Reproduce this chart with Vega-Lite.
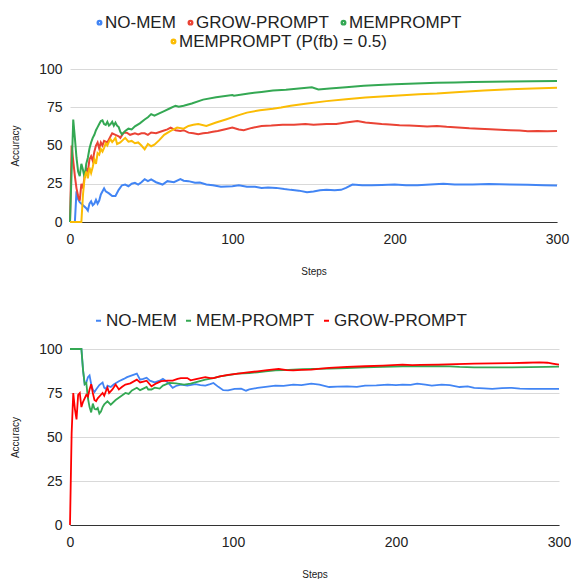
{
  "$schema": "https://vega.github.io/schema/vega-lite/v6.json",
  "padding": {"left": 10, "top": 14, "right": 2, "bottom": 2},
  "config": {
    "font": "Liberation Sans",
    "view": {"stroke": null},
    "axis": {"labelColor": "#222", "titleColor": "#222", "titleFontWeight": "normal", "titleFontSize": 10, "labelFontSize": 14, "ticks": false, "labelFlush": false},
    "axisY": {"grid": true, "gridColor": "#d9d9d9", "gridWidth": 1.2, "domain": false, "labelPadding": 8, "titlePadding": 18},
    "axisX": {"grid": false, "domainColor": "#333", "labelPadding": 10, "titlePadding": 20},
    "legend": {"labelFontSize": 17, "labelColor": "#222", "labelFont": "Liberation Sans", "labelLimit": 0, "direction": "horizontal", "orient": "none", "title": null, "labelOffset": -3, "columnPadding": 6}
  },
  "datasets": {
    "top": [
      {"s": "NO-MEM", "x": 0, "y": 0}, {"s": "NO-MEM", "x": 3, "y": 0}, {"s": "NO-MEM", "x": 4, "y": 20}, {"s": "NO-MEM", "x": 5, "y": 15}, {"s": "NO-MEM", "x": 6, "y": 13}, {"s": "NO-MEM", "x": 8, "y": 11}, {"s": "NO-MEM", "x": 10, "y": 9}, {"s": "NO-MEM", "x": 11, "y": 7.5}, {"s": "NO-MEM", "x": 12, "y": 12}, {"s": "NO-MEM", "x": 13, "y": 13.5}, {"s": "NO-MEM", "x": 14, "y": 11}, {"s": "NO-MEM", "x": 15, "y": 12}, {"s": "NO-MEM", "x": 16, "y": 14.5}, {"s": "NO-MEM", "x": 17, "y": 12}, {"s": "NO-MEM", "x": 18, "y": 14}, {"s": "NO-MEM", "x": 19, "y": 18}, {"s": "NO-MEM", "x": 21, "y": 22}, {"s": "NO-MEM", "x": 22, "y": 20}, {"s": "NO-MEM", "x": 24, "y": 18.7}, {"s": "NO-MEM", "x": 26, "y": 17}, {"s": "NO-MEM", "x": 28, "y": 17}, {"s": "NO-MEM", "x": 30, "y": 21}, {"s": "NO-MEM", "x": 32, "y": 24}, {"s": "NO-MEM", "x": 34, "y": 24.5}, {"s": "NO-MEM", "x": 36, "y": 23.4}, {"s": "NO-MEM", "x": 38, "y": 25}, {"s": "NO-MEM", "x": 40, "y": 25.6}, {"s": "NO-MEM", "x": 42, "y": 24.5}, {"s": "NO-MEM", "x": 44, "y": 26}, {"s": "NO-MEM", "x": 46, "y": 28}, {"s": "NO-MEM", "x": 48, "y": 26.7}, {"s": "NO-MEM", "x": 50, "y": 27.8}, {"s": "NO-MEM", "x": 53, "y": 26}, {"s": "NO-MEM", "x": 57, "y": 24.5}, {"s": "NO-MEM", "x": 60, "y": 26.7}, {"s": "NO-MEM", "x": 64, "y": 26}, {"s": "NO-MEM", "x": 68, "y": 28}, {"s": "NO-MEM", "x": 70, "y": 27}, {"s": "NO-MEM", "x": 73, "y": 26.7}, {"s": "NO-MEM", "x": 77, "y": 25.6}, {"s": "NO-MEM", "x": 80, "y": 25.8}, {"s": "NO-MEM", "x": 84, "y": 24.5}, {"s": "NO-MEM", "x": 88, "y": 24}, {"s": "NO-MEM", "x": 93, "y": 23}, {"s": "NO-MEM", "x": 100, "y": 23.4}, {"s": "NO-MEM", "x": 104, "y": 24}, {"s": "NO-MEM", "x": 109, "y": 23}, {"s": "NO-MEM", "x": 114, "y": 23}, {"s": "NO-MEM", "x": 118, "y": 22.3}, {"s": "NO-MEM", "x": 122, "y": 22.5}, {"s": "NO-MEM", "x": 127, "y": 22.3}, {"s": "NO-MEM", "x": 132, "y": 21.5}, {"s": "NO-MEM", "x": 136, "y": 21}, {"s": "NO-MEM", "x": 141, "y": 20.5}, {"s": "NO-MEM", "x": 146, "y": 19.5}, {"s": "NO-MEM", "x": 150, "y": 20}, {"s": "NO-MEM", "x": 154, "y": 20.8}, {"s": "NO-MEM", "x": 158, "y": 21}, {"s": "NO-MEM", "x": 163, "y": 20.8}, {"s": "NO-MEM", "x": 167, "y": 21}, {"s": "NO-MEM", "x": 170, "y": 22.3}, {"s": "NO-MEM", "x": 174, "y": 24.5}, {"s": "NO-MEM", "x": 180, "y": 24}, {"s": "NO-MEM", "x": 186, "y": 24}, {"s": "NO-MEM", "x": 192, "y": 24.2}, {"s": "NO-MEM", "x": 200, "y": 24.5}, {"s": "NO-MEM", "x": 207, "y": 24}, {"s": "NO-MEM", "x": 214, "y": 24}, {"s": "NO-MEM", "x": 222, "y": 24.5}, {"s": "NO-MEM", "x": 230, "y": 25}, {"s": "NO-MEM", "x": 237, "y": 24.5}, {"s": "NO-MEM", "x": 248, "y": 24.5}, {"s": "NO-MEM", "x": 258, "y": 24.8}, {"s": "NO-MEM", "x": 271, "y": 24.5}, {"s": "NO-MEM", "x": 282, "y": 24.3}, {"s": "NO-MEM", "x": 292, "y": 24}, {"s": "NO-MEM", "x": 300, "y": 23.8},
      {"s": "GROW-PROMPT", "x": 0, "y": 0}, {"s": "GROW-PROMPT", "x": 1, "y": 50}, {"s": "GROW-PROMPT", "x": 2, "y": 40}, {"s": "GROW-PROMPT", "x": 3, "y": 30}, {"s": "GROW-PROMPT", "x": 4, "y": 22}, {"s": "GROW-PROMPT", "x": 5, "y": 17}, {"s": "GROW-PROMPT", "x": 6, "y": 14}, {"s": "GROW-PROMPT", "x": 7, "y": 25}, {"s": "GROW-PROMPT", "x": 8, "y": 22}, {"s": "GROW-PROMPT", "x": 9, "y": 30}, {"s": "GROW-PROMPT", "x": 10, "y": 35}, {"s": "GROW-PROMPT", "x": 11, "y": 33}, {"s": "GROW-PROMPT", "x": 12, "y": 41}, {"s": "GROW-PROMPT", "x": 13, "y": 43}, {"s": "GROW-PROMPT", "x": 14, "y": 40}, {"s": "GROW-PROMPT", "x": 15, "y": 46}, {"s": "GROW-PROMPT", "x": 16, "y": 50}, {"s": "GROW-PROMPT", "x": 17, "y": 52}, {"s": "GROW-PROMPT", "x": 18, "y": 48}, {"s": "GROW-PROMPT", "x": 19, "y": 52}, {"s": "GROW-PROMPT", "x": 20, "y": 50}, {"s": "GROW-PROMPT", "x": 21, "y": 53}, {"s": "GROW-PROMPT", "x": 23, "y": 52}, {"s": "GROW-PROMPT", "x": 25, "y": 56}, {"s": "GROW-PROMPT", "x": 26, "y": 58}, {"s": "GROW-PROMPT", "x": 28, "y": 57}, {"s": "GROW-PROMPT", "x": 30, "y": 56}, {"s": "GROW-PROMPT", "x": 31, "y": 55}, {"s": "GROW-PROMPT", "x": 33, "y": 58.4}, {"s": "GROW-PROMPT", "x": 35, "y": 58.4}, {"s": "GROW-PROMPT", "x": 37, "y": 57}, {"s": "GROW-PROMPT", "x": 40, "y": 58}, {"s": "GROW-PROMPT", "x": 42, "y": 57.3}, {"s": "GROW-PROMPT", "x": 44, "y": 58}, {"s": "GROW-PROMPT", "x": 46, "y": 58}, {"s": "GROW-PROMPT", "x": 48, "y": 57}, {"s": "GROW-PROMPT", "x": 50, "y": 58.5}, {"s": "GROW-PROMPT", "x": 53, "y": 58}, {"s": "GROW-PROMPT", "x": 57, "y": 59.5}, {"s": "GROW-PROMPT", "x": 60, "y": 60.5}, {"s": "GROW-PROMPT", "x": 62, "y": 61.7}, {"s": "GROW-PROMPT", "x": 65, "y": 60}, {"s": "GROW-PROMPT", "x": 68, "y": 59.5}, {"s": "GROW-PROMPT", "x": 70, "y": 60}, {"s": "GROW-PROMPT", "x": 73, "y": 58.4}, {"s": "GROW-PROMPT", "x": 76, "y": 58}, {"s": "GROW-PROMPT", "x": 79, "y": 57.3}, {"s": "GROW-PROMPT", "x": 82, "y": 58}, {"s": "GROW-PROMPT", "x": 85, "y": 58.4}, {"s": "GROW-PROMPT", "x": 88, "y": 59}, {"s": "GROW-PROMPT", "x": 91, "y": 59.5}, {"s": "GROW-PROMPT", "x": 95, "y": 60.5}, {"s": "GROW-PROMPT", "x": 100, "y": 61.7}, {"s": "GROW-PROMPT", "x": 104, "y": 60.5}, {"s": "GROW-PROMPT", "x": 107, "y": 60}, {"s": "GROW-PROMPT", "x": 112, "y": 61.5}, {"s": "GROW-PROMPT", "x": 118, "y": 62.8}, {"s": "GROW-PROMPT", "x": 124, "y": 63}, {"s": "GROW-PROMPT", "x": 131, "y": 63.5}, {"s": "GROW-PROMPT", "x": 138, "y": 63.5}, {"s": "GROW-PROMPT", "x": 145, "y": 64}, {"s": "GROW-PROMPT", "x": 150, "y": 63.5}, {"s": "GROW-PROMPT", "x": 158, "y": 64}, {"s": "GROW-PROMPT", "x": 164, "y": 64}, {"s": "GROW-PROMPT", "x": 170, "y": 65}, {"s": "GROW-PROMPT", "x": 177, "y": 66}, {"s": "GROW-PROMPT", "x": 182, "y": 65}, {"s": "GROW-PROMPT", "x": 187, "y": 64.5}, {"s": "GROW-PROMPT", "x": 192, "y": 64}, {"s": "GROW-PROMPT", "x": 197, "y": 63.8}, {"s": "GROW-PROMPT", "x": 203, "y": 63.2}, {"s": "GROW-PROMPT", "x": 209, "y": 63}, {"s": "GROW-PROMPT", "x": 215, "y": 62.8}, {"s": "GROW-PROMPT", "x": 220, "y": 62.5}, {"s": "GROW-PROMPT", "x": 226, "y": 62.8}, {"s": "GROW-PROMPT", "x": 232, "y": 62.2}, {"s": "GROW-PROMPT", "x": 239, "y": 61.7}, {"s": "GROW-PROMPT", "x": 246, "y": 61.2}, {"s": "GROW-PROMPT", "x": 252, "y": 61}, {"s": "GROW-PROMPT", "x": 259, "y": 60.6}, {"s": "GROW-PROMPT", "x": 265, "y": 60.3}, {"s": "GROW-PROMPT", "x": 271, "y": 60}, {"s": "GROW-PROMPT", "x": 277, "y": 59.8}, {"s": "GROW-PROMPT", "x": 282, "y": 59.3}, {"s": "GROW-PROMPT", "x": 288, "y": 59.5}, {"s": "GROW-PROMPT", "x": 294, "y": 59.3}, {"s": "GROW-PROMPT", "x": 300, "y": 59.5},
      {"s": "MEMPROMPT", "x": 0, "y": 0}, {"s": "MEMPROMPT", "x": 2, "y": 67}, {"s": "MEMPROMPT", "x": 3, "y": 55}, {"s": "MEMPROMPT", "x": 4, "y": 42}, {"s": "MEMPROMPT", "x": 5, "y": 33}, {"s": "MEMPROMPT", "x": 6, "y": 30}, {"s": "MEMPROMPT", "x": 7, "y": 38}, {"s": "MEMPROMPT", "x": 8, "y": 34}, {"s": "MEMPROMPT", "x": 9, "y": 29}, {"s": "MEMPROMPT", "x": 10, "y": 38}, {"s": "MEMPROMPT", "x": 11, "y": 42}, {"s": "MEMPROMPT", "x": 12, "y": 48}, {"s": "MEMPROMPT", "x": 13, "y": 52}, {"s": "MEMPROMPT", "x": 14, "y": 55}, {"s": "MEMPROMPT", "x": 15, "y": 57}, {"s": "MEMPROMPT", "x": 16, "y": 60}, {"s": "MEMPROMPT", "x": 17, "y": 62}, {"s": "MEMPROMPT", "x": 18, "y": 64}, {"s": "MEMPROMPT", "x": 19, "y": 66}, {"s": "MEMPROMPT", "x": 20, "y": 66.5}, {"s": "MEMPROMPT", "x": 21, "y": 64}, {"s": "MEMPROMPT", "x": 22, "y": 63.5}, {"s": "MEMPROMPT", "x": 23, "y": 65.5}, {"s": "MEMPROMPT", "x": 24, "y": 63}, {"s": "MEMPROMPT", "x": 25, "y": 64}, {"s": "MEMPROMPT", "x": 26, "y": 65.5}, {"s": "MEMPROMPT", "x": 27, "y": 63}, {"s": "MEMPROMPT", "x": 28, "y": 65}, {"s": "MEMPROMPT", "x": 29, "y": 63}, {"s": "MEMPROMPT", "x": 30, "y": 62}, {"s": "MEMPROMPT", "x": 31, "y": 59}, {"s": "MEMPROMPT", "x": 32, "y": 57.3}, {"s": "MEMPROMPT", "x": 34, "y": 59.5}, {"s": "MEMPROMPT", "x": 36, "y": 61}, {"s": "MEMPROMPT", "x": 38, "y": 60.5}, {"s": "MEMPROMPT", "x": 40, "y": 62.5}, {"s": "MEMPROMPT", "x": 43, "y": 64.5}, {"s": "MEMPROMPT", "x": 46, "y": 67}, {"s": "MEMPROMPT", "x": 48, "y": 68.5}, {"s": "MEMPROMPT", "x": 50, "y": 70.5}, {"s": "MEMPROMPT", "x": 52, "y": 69.5}, {"s": "MEMPROMPT", "x": 55, "y": 71}, {"s": "MEMPROMPT", "x": 58, "y": 72.5}, {"s": "MEMPROMPT", "x": 62, "y": 74.5}, {"s": "MEMPROMPT", "x": 65, "y": 76}, {"s": "MEMPROMPT", "x": 67, "y": 75.3}, {"s": "MEMPROMPT", "x": 70, "y": 76}, {"s": "MEMPROMPT", "x": 75, "y": 77.5}, {"s": "MEMPROMPT", "x": 82, "y": 80}, {"s": "MEMPROMPT", "x": 90, "y": 81.5}, {"s": "MEMPROMPT", "x": 100, "y": 83}, {"s": "MEMPROMPT", "x": 101, "y": 82.5}, {"s": "MEMPROMPT", "x": 110, "y": 84}, {"s": "MEMPROMPT", "x": 118, "y": 85}, {"s": "MEMPROMPT", "x": 125, "y": 86}, {"s": "MEMPROMPT", "x": 133, "y": 86.5}, {"s": "MEMPROMPT", "x": 141, "y": 87.2}, {"s": "MEMPROMPT", "x": 149, "y": 88}, {"s": "MEMPROMPT", "x": 153, "y": 86.6}, {"s": "MEMPROMPT", "x": 160, "y": 87.3}, {"s": "MEMPROMPT", "x": 170, "y": 88}, {"s": "MEMPROMPT", "x": 181, "y": 89}, {"s": "MEMPROMPT", "x": 190, "y": 89.5}, {"s": "MEMPROMPT", "x": 200, "y": 90}, {"s": "MEMPROMPT", "x": 213, "y": 90.5}, {"s": "MEMPROMPT", "x": 226, "y": 91}, {"s": "MEMPROMPT", "x": 237, "y": 91.2}, {"s": "MEMPROMPT", "x": 248, "y": 91.5}, {"s": "MEMPROMPT", "x": 260, "y": 91.6}, {"s": "MEMPROMPT", "x": 272, "y": 91.8}, {"s": "MEMPROMPT", "x": 285, "y": 92}, {"s": "MEMPROMPT", "x": 300, "y": 92.2},
      {"s": "MEMPROMPT (P(fb) = 0.5)", "x": 0, "y": 0}, {"s": "MEMPROMPT (P(fb) = 0.5)", "x": 7, "y": 0}, {"s": "MEMPROMPT (P(fb) = 0.5)", "x": 8, "y": 18}, {"s": "MEMPROMPT (P(fb) = 0.5)", "x": 9, "y": 29}, {"s": "MEMPROMPT (P(fb) = 0.5)", "x": 10, "y": 33}, {"s": "MEMPROMPT (P(fb) = 0.5)", "x": 11, "y": 28.5}, {"s": "MEMPROMPT (P(fb) = 0.5)", "x": 12, "y": 35.6}, {"s": "MEMPROMPT (P(fb) = 0.5)", "x": 13, "y": 32}, {"s": "MEMPROMPT (P(fb) = 0.5)", "x": 14, "y": 36}, {"s": "MEMPROMPT (P(fb) = 0.5)", "x": 15, "y": 41}, {"s": "MEMPROMPT (P(fb) = 0.5)", "x": 16, "y": 38}, {"s": "MEMPROMPT (P(fb) = 0.5)", "x": 17, "y": 45}, {"s": "MEMPROMPT (P(fb) = 0.5)", "x": 18, "y": 44}, {"s": "MEMPROMPT (P(fb) = 0.5)", "x": 19, "y": 47.7}, {"s": "MEMPROMPT (P(fb) = 0.5)", "x": 20, "y": 46}, {"s": "MEMPROMPT (P(fb) = 0.5)", "x": 21, "y": 48.5}, {"s": "MEMPROMPT (P(fb) = 0.5)", "x": 22, "y": 51.4}, {"s": "MEMPROMPT (P(fb) = 0.5)", "x": 23, "y": 50}, {"s": "MEMPROMPT (P(fb) = 0.5)", "x": 24, "y": 52.5}, {"s": "MEMPROMPT (P(fb) = 0.5)", "x": 25, "y": 54}, {"s": "MEMPROMPT (P(fb) = 0.5)", "x": 26, "y": 52.3}, {"s": "MEMPROMPT (P(fb) = 0.5)", "x": 27, "y": 53.5}, {"s": "MEMPROMPT (P(fb) = 0.5)", "x": 28, "y": 55}, {"s": "MEMPROMPT (P(fb) = 0.5)", "x": 29, "y": 51}, {"s": "MEMPROMPT (P(fb) = 0.5)", "x": 31, "y": 52}, {"s": "MEMPROMPT (P(fb) = 0.5)", "x": 33, "y": 54}, {"s": "MEMPROMPT (P(fb) = 0.5)", "x": 34, "y": 55}, {"s": "MEMPROMPT (P(fb) = 0.5)", "x": 36, "y": 52.5}, {"s": "MEMPROMPT (P(fb) = 0.5)", "x": 38, "y": 53}, {"s": "MEMPROMPT (P(fb) = 0.5)", "x": 40, "y": 51.5}, {"s": "MEMPROMPT (P(fb) = 0.5)", "x": 42, "y": 52}, {"s": "MEMPROMPT (P(fb) = 0.5)", "x": 44, "y": 50}, {"s": "MEMPROMPT (P(fb) = 0.5)", "x": 46, "y": 47.5}, {"s": "MEMPROMPT (P(fb) = 0.5)", "x": 48, "y": 51}, {"s": "MEMPROMPT (P(fb) = 0.5)", "x": 50, "y": 49.5}, {"s": "MEMPROMPT (P(fb) = 0.5)", "x": 52, "y": 50.5}, {"s": "MEMPROMPT (P(fb) = 0.5)", "x": 55, "y": 53.5}, {"s": "MEMPROMPT (P(fb) = 0.5)", "x": 58, "y": 57}, {"s": "MEMPROMPT (P(fb) = 0.5)", "x": 62, "y": 59.5}, {"s": "MEMPROMPT (P(fb) = 0.5)", "x": 66, "y": 61.7}, {"s": "MEMPROMPT (P(fb) = 0.5)", "x": 70, "y": 61}, {"s": "MEMPROMPT (P(fb) = 0.5)", "x": 73, "y": 62.8}, {"s": "MEMPROMPT (P(fb) = 0.5)", "x": 76, "y": 63.5}, {"s": "MEMPROMPT (P(fb) = 0.5)", "x": 79, "y": 64}, {"s": "MEMPROMPT (P(fb) = 0.5)", "x": 84, "y": 62.8}, {"s": "MEMPROMPT (P(fb) = 0.5)", "x": 90, "y": 65}, {"s": "MEMPROMPT (P(fb) = 0.5)", "x": 96, "y": 67}, {"s": "MEMPROMPT (P(fb) = 0.5)", "x": 103, "y": 69.5}, {"s": "MEMPROMPT (P(fb) = 0.5)", "x": 109, "y": 71.5}, {"s": "MEMPROMPT (P(fb) = 0.5)", "x": 117, "y": 73}, {"s": "MEMPROMPT (P(fb) = 0.5)", "x": 125, "y": 74}, {"s": "MEMPROMPT (P(fb) = 0.5)", "x": 130, "y": 74.8}, {"s": "MEMPROMPT (P(fb) = 0.5)", "x": 136, "y": 76}, {"s": "MEMPROMPT (P(fb) = 0.5)", "x": 145, "y": 77.3}, {"s": "MEMPROMPT (P(fb) = 0.5)", "x": 158, "y": 79}, {"s": "MEMPROMPT (P(fb) = 0.5)", "x": 170, "y": 80.3}, {"s": "MEMPROMPT (P(fb) = 0.5)", "x": 182, "y": 81.3}, {"s": "MEMPROMPT (P(fb) = 0.5)", "x": 192, "y": 82}, {"s": "MEMPROMPT (P(fb) = 0.5)", "x": 205, "y": 82.8}, {"s": "MEMPROMPT (P(fb) = 0.5)", "x": 215, "y": 83.5}, {"s": "MEMPROMPT (P(fb) = 0.5)", "x": 226, "y": 84}, {"s": "MEMPROMPT (P(fb) = 0.5)", "x": 240, "y": 85}, {"s": "MEMPROMPT (P(fb) = 0.5)", "x": 255, "y": 86}, {"s": "MEMPROMPT (P(fb) = 0.5)", "x": 271, "y": 86.8}, {"s": "MEMPROMPT (P(fb) = 0.5)", "x": 285, "y": 87.2}, {"s": "MEMPROMPT (P(fb) = 0.5)", "x": 300, "y": 87.7}
    ],
    "bottom": [
      {"s": "NO-MEM", "x": 0, "y": 100}, {"s": "NO-MEM", "x": 7, "y": 100}, {"s": "NO-MEM", "x": 8, "y": 88}, {"s": "NO-MEM", "x": 9, "y": 80}, {"s": "NO-MEM", "x": 10, "y": 81}, {"s": "NO-MEM", "x": 11, "y": 84}, {"s": "NO-MEM", "x": 12, "y": 85}, {"s": "NO-MEM", "x": 13, "y": 80}, {"s": "NO-MEM", "x": 14, "y": 77}, {"s": "NO-MEM", "x": 15, "y": 75.5}, {"s": "NO-MEM", "x": 16, "y": 77}, {"s": "NO-MEM", "x": 18, "y": 79.5}, {"s": "NO-MEM", "x": 20, "y": 81}, {"s": "NO-MEM", "x": 21, "y": 78}, {"s": "NO-MEM", "x": 22, "y": 77.3}, {"s": "NO-MEM", "x": 23, "y": 79.2}, {"s": "NO-MEM", "x": 25, "y": 78.4}, {"s": "NO-MEM", "x": 27, "y": 80}, {"s": "NO-MEM", "x": 30, "y": 81.7}, {"s": "NO-MEM", "x": 33, "y": 83}, {"s": "NO-MEM", "x": 35, "y": 84}, {"s": "NO-MEM", "x": 38, "y": 85}, {"s": "NO-MEM", "x": 41, "y": 86}, {"s": "NO-MEM", "x": 43, "y": 82.6}, {"s": "NO-MEM", "x": 45, "y": 83}, {"s": "NO-MEM", "x": 47, "y": 83.7}, {"s": "NO-MEM", "x": 49, "y": 82}, {"s": "NO-MEM", "x": 52, "y": 81}, {"s": "NO-MEM", "x": 55, "y": 82}, {"s": "NO-MEM", "x": 57, "y": 83}, {"s": "NO-MEM", "x": 59, "y": 81.7}, {"s": "NO-MEM", "x": 61, "y": 80}, {"s": "NO-MEM", "x": 63, "y": 77.9}, {"s": "NO-MEM", "x": 65, "y": 79}, {"s": "NO-MEM", "x": 68, "y": 79.8}, {"s": "NO-MEM", "x": 72, "y": 79.2}, {"s": "NO-MEM", "x": 77, "y": 80}, {"s": "NO-MEM", "x": 80, "y": 79.5}, {"s": "NO-MEM", "x": 83, "y": 79.2}, {"s": "NO-MEM", "x": 86, "y": 80}, {"s": "NO-MEM", "x": 88, "y": 80.7}, {"s": "NO-MEM", "x": 91, "y": 78.5}, {"s": "NO-MEM", "x": 94, "y": 76.6}, {"s": "NO-MEM", "x": 97, "y": 76.5}, {"s": "NO-MEM", "x": 101, "y": 77.4}, {"s": "NO-MEM", "x": 105, "y": 77.5}, {"s": "NO-MEM", "x": 108, "y": 76.3}, {"s": "NO-MEM", "x": 110, "y": 77}, {"s": "NO-MEM", "x": 115, "y": 77.9}, {"s": "NO-MEM", "x": 120, "y": 78.5}, {"s": "NO-MEM", "x": 126, "y": 79.2}, {"s": "NO-MEM", "x": 131, "y": 79}, {"s": "NO-MEM", "x": 137, "y": 79.8}, {"s": "NO-MEM", "x": 142, "y": 79.5}, {"s": "NO-MEM", "x": 148, "y": 80.3}, {"s": "NO-MEM", "x": 153, "y": 79.8}, {"s": "NO-MEM", "x": 159, "y": 78.4}, {"s": "NO-MEM", "x": 164, "y": 78.6}, {"s": "NO-MEM", "x": 170, "y": 78.8}, {"s": "NO-MEM", "x": 176, "y": 78.5}, {"s": "NO-MEM", "x": 181, "y": 79.2}, {"s": "NO-MEM", "x": 188, "y": 79.3}, {"s": "NO-MEM", "x": 195, "y": 79.8}, {"s": "NO-MEM", "x": 200, "y": 79.5}, {"s": "NO-MEM", "x": 204, "y": 79.8}, {"s": "NO-MEM", "x": 209, "y": 79.6}, {"s": "NO-MEM", "x": 213, "y": 80.3}, {"s": "NO-MEM", "x": 218, "y": 79.8}, {"s": "NO-MEM", "x": 222, "y": 79.2}, {"s": "NO-MEM", "x": 228, "y": 79.8}, {"s": "NO-MEM", "x": 233, "y": 79.5}, {"s": "NO-MEM", "x": 239, "y": 78.4}, {"s": "NO-MEM", "x": 244, "y": 78.8}, {"s": "NO-MEM", "x": 248, "y": 77.9}, {"s": "NO-MEM", "x": 254, "y": 77.6}, {"s": "NO-MEM", "x": 259, "y": 77.3}, {"s": "NO-MEM", "x": 265, "y": 77.8}, {"s": "NO-MEM", "x": 271, "y": 77.9}, {"s": "NO-MEM", "x": 276, "y": 77.5}, {"s": "NO-MEM", "x": 282, "y": 77.3}, {"s": "NO-MEM", "x": 288, "y": 77.4}, {"s": "NO-MEM", "x": 293, "y": 77.3}, {"s": "NO-MEM", "x": 300, "y": 77.3},
      {"s": "MEM-PROMPT", "x": 0, "y": 100}, {"s": "MEM-PROMPT", "x": 7, "y": 100}, {"s": "MEM-PROMPT", "x": 8, "y": 88}, {"s": "MEM-PROMPT", "x": 9, "y": 80}, {"s": "MEM-PROMPT", "x": 10, "y": 80.7}, {"s": "MEM-PROMPT", "x": 11, "y": 72}, {"s": "MEM-PROMPT", "x": 12, "y": 67}, {"s": "MEM-PROMPT", "x": 13, "y": 64}, {"s": "MEM-PROMPT", "x": 14, "y": 69}, {"s": "MEM-PROMPT", "x": 15, "y": 66}, {"s": "MEM-PROMPT", "x": 16, "y": 65.6}, {"s": "MEM-PROMPT", "x": 17, "y": 66.5}, {"s": "MEM-PROMPT", "x": 18, "y": 63.3}, {"s": "MEM-PROMPT", "x": 19, "y": 64.5}, {"s": "MEM-PROMPT", "x": 20, "y": 67}, {"s": "MEM-PROMPT", "x": 21, "y": 68.5}, {"s": "MEM-PROMPT", "x": 23, "y": 70.3}, {"s": "MEM-PROMPT", "x": 25, "y": 68.4}, {"s": "MEM-PROMPT", "x": 28, "y": 71}, {"s": "MEM-PROMPT", "x": 31, "y": 73}, {"s": "MEM-PROMPT", "x": 34, "y": 75}, {"s": "MEM-PROMPT", "x": 36, "y": 74.5}, {"s": "MEM-PROMPT", "x": 38, "y": 76.5}, {"s": "MEM-PROMPT", "x": 41, "y": 78}, {"s": "MEM-PROMPT", "x": 43, "y": 76.6}, {"s": "MEM-PROMPT", "x": 45, "y": 77.5}, {"s": "MEM-PROMPT", "x": 47, "y": 78.4}, {"s": "MEM-PROMPT", "x": 48, "y": 77}, {"s": "MEM-PROMPT", "x": 50, "y": 77}, {"s": "MEM-PROMPT", "x": 52, "y": 78}, {"s": "MEM-PROMPT", "x": 55, "y": 77.5}, {"s": "MEM-PROMPT", "x": 57, "y": 79.2}, {"s": "MEM-PROMPT", "x": 61, "y": 80.7}, {"s": "MEM-PROMPT", "x": 65, "y": 80.5}, {"s": "MEM-PROMPT", "x": 70, "y": 79.8}, {"s": "MEM-PROMPT", "x": 74, "y": 80.3}, {"s": "MEM-PROMPT", "x": 78, "y": 81.3}, {"s": "MEM-PROMPT", "x": 83, "y": 82.6}, {"s": "MEM-PROMPT", "x": 88, "y": 83.5}, {"s": "MEM-PROMPT", "x": 92, "y": 84.5}, {"s": "MEM-PROMPT", "x": 98, "y": 85.3}, {"s": "MEM-PROMPT", "x": 103, "y": 86}, {"s": "MEM-PROMPT", "x": 110, "y": 86.3}, {"s": "MEM-PROMPT", "x": 115, "y": 86.8}, {"s": "MEM-PROMPT", "x": 120, "y": 87.3}, {"s": "MEM-PROMPT", "x": 126, "y": 87.9}, {"s": "MEM-PROMPT", "x": 131, "y": 88}, {"s": "MEM-PROMPT", "x": 137, "y": 88.3}, {"s": "MEM-PROMPT", "x": 143, "y": 88.5}, {"s": "MEM-PROMPT", "x": 150, "y": 88.7}, {"s": "MEM-PROMPT", "x": 159, "y": 88.9}, {"s": "MEM-PROMPT", "x": 170, "y": 89.2}, {"s": "MEM-PROMPT", "x": 181, "y": 89.6}, {"s": "MEM-PROMPT", "x": 192, "y": 89.9}, {"s": "MEM-PROMPT", "x": 204, "y": 90.2}, {"s": "MEM-PROMPT", "x": 215, "y": 90.2}, {"s": "MEM-PROMPT", "x": 226, "y": 90.2}, {"s": "MEM-PROMPT", "x": 233, "y": 90.1}, {"s": "MEM-PROMPT", "x": 239, "y": 89.8}, {"s": "MEM-PROMPT", "x": 248, "y": 89.6}, {"s": "MEM-PROMPT", "x": 259, "y": 89.6}, {"s": "MEM-PROMPT", "x": 271, "y": 89.6}, {"s": "MEM-PROMPT", "x": 282, "y": 89.7}, {"s": "MEM-PROMPT", "x": 292, "y": 89.8}, {"s": "MEM-PROMPT", "x": 300, "y": 90},
      {"s": "GROW-PROMPT", "x": 0, "y": 0}, {"s": "GROW-PROMPT", "x": 1, "y": 52}, {"s": "GROW-PROMPT", "x": 2, "y": 75}, {"s": "GROW-PROMPT", "x": 3, "y": 66}, {"s": "GROW-PROMPT", "x": 4, "y": 60}, {"s": "GROW-PROMPT", "x": 5, "y": 74}, {"s": "GROW-PROMPT", "x": 6, "y": 75}, {"s": "GROW-PROMPT", "x": 7, "y": 67}, {"s": "GROW-PROMPT", "x": 8, "y": 70}, {"s": "GROW-PROMPT", "x": 9, "y": 72}, {"s": "GROW-PROMPT", "x": 10, "y": 74}, {"s": "GROW-PROMPT", "x": 11, "y": 73}, {"s": "GROW-PROMPT", "x": 12, "y": 77}, {"s": "GROW-PROMPT", "x": 13, "y": 80}, {"s": "GROW-PROMPT", "x": 14, "y": 75}, {"s": "GROW-PROMPT", "x": 15, "y": 71}, {"s": "GROW-PROMPT", "x": 16, "y": 70.3}, {"s": "GROW-PROMPT", "x": 17, "y": 72}, {"s": "GROW-PROMPT", "x": 19, "y": 74}, {"s": "GROW-PROMPT", "x": 20, "y": 75}, {"s": "GROW-PROMPT", "x": 21, "y": 73.5}, {"s": "GROW-PROMPT", "x": 22, "y": 76}, {"s": "GROW-PROMPT", "x": 23, "y": 78}, {"s": "GROW-PROMPT", "x": 24, "y": 75}, {"s": "GROW-PROMPT", "x": 26, "y": 77}, {"s": "GROW-PROMPT", "x": 28, "y": 79.8}, {"s": "GROW-PROMPT", "x": 30, "y": 77}, {"s": "GROW-PROMPT", "x": 32, "y": 78.5}, {"s": "GROW-PROMPT", "x": 34, "y": 79.8}, {"s": "GROW-PROMPT", "x": 37, "y": 80.5}, {"s": "GROW-PROMPT", "x": 41, "y": 82.6}, {"s": "GROW-PROMPT", "x": 43, "y": 81}, {"s": "GROW-PROMPT", "x": 45, "y": 81.5}, {"s": "GROW-PROMPT", "x": 47, "y": 82}, {"s": "GROW-PROMPT", "x": 50, "y": 78.8}, {"s": "GROW-PROMPT", "x": 53, "y": 80.5}, {"s": "GROW-PROMPT", "x": 56, "y": 81.7}, {"s": "GROW-PROMPT", "x": 60, "y": 82}, {"s": "GROW-PROMPT", "x": 63, "y": 82}, {"s": "GROW-PROMPT", "x": 66, "y": 83}, {"s": "GROW-PROMPT", "x": 68, "y": 83.5}, {"s": "GROW-PROMPT", "x": 72, "y": 83.5}, {"s": "GROW-PROMPT", "x": 74, "y": 82.2}, {"s": "GROW-PROMPT", "x": 78, "y": 83}, {"s": "GROW-PROMPT", "x": 83, "y": 84}, {"s": "GROW-PROMPT", "x": 86, "y": 83.5}, {"s": "GROW-PROMPT", "x": 88, "y": 83.5}, {"s": "GROW-PROMPT", "x": 92, "y": 84.5}, {"s": "GROW-PROMPT", "x": 97, "y": 85.3}, {"s": "GROW-PROMPT", "x": 103, "y": 86}, {"s": "GROW-PROMPT", "x": 109, "y": 86.7}, {"s": "GROW-PROMPT", "x": 115, "y": 87.3}, {"s": "GROW-PROMPT", "x": 121, "y": 88}, {"s": "GROW-PROMPT", "x": 128, "y": 88.7}, {"s": "GROW-PROMPT", "x": 133, "y": 88}, {"s": "GROW-PROMPT", "x": 137, "y": 87.9}, {"s": "GROW-PROMPT", "x": 142, "y": 88.1}, {"s": "GROW-PROMPT", "x": 148, "y": 88.3}, {"s": "GROW-PROMPT", "x": 154, "y": 88.8}, {"s": "GROW-PROMPT", "x": 159, "y": 89.3}, {"s": "GROW-PROMPT", "x": 170, "y": 89.8}, {"s": "GROW-PROMPT", "x": 181, "y": 90.2}, {"s": "GROW-PROMPT", "x": 192, "y": 90.6}, {"s": "GROW-PROMPT", "x": 204, "y": 91.1}, {"s": "GROW-PROMPT", "x": 210, "y": 90.8}, {"s": "GROW-PROMPT", "x": 215, "y": 91}, {"s": "GROW-PROMPT", "x": 226, "y": 91.1}, {"s": "GROW-PROMPT", "x": 237, "y": 91.4}, {"s": "GROW-PROMPT", "x": 248, "y": 91.7}, {"s": "GROW-PROMPT", "x": 259, "y": 91.8}, {"s": "GROW-PROMPT", "x": 271, "y": 92}, {"s": "GROW-PROMPT", "x": 280, "y": 92.2}, {"s": "GROW-PROMPT", "x": 288, "y": 92.4}, {"s": "GROW-PROMPT", "x": 293, "y": 92.2}, {"s": "GROW-PROMPT", "x": 296, "y": 91.7}, {"s": "GROW-PROMPT", "x": 300, "y": 91.1}
    ]
  },
  "spacing": 36,
  "resolve": {"scale": {"color": "independent"}, "legend": {"color": "independent"}},
  "vconcat": [
    {
      "width": 487,
      "height": 153,
      "data": {"name": "top"},
      "encoding": {
        "x": {"field": "x", "type": "quantitative", "title": "Steps", "scale": {"domain": [0, 300], "nice": false}, "axis": {"values": [0, 100, 200, 300]}},
        "y": {"field": "y", "type": "quantitative", "title": "Accuracy", "scale": {"domain": [0, 100]}, "axis": {"values": [0, 25, 50, 75, 100]}}
      },
      "layer": [
        {
          "transform": [{"filter": "datum.s != 'MEMPROMPT (P(fb) = 0.5)'"}],
          "mark": {"type": "line", "strokeWidth": 2},
          "encoding": {
            "color": {"field": "s", "type": "nominal", "sort": null,
              "scale": {"domain": ["NO-MEM", "GROW-PROMPT", "MEMPROMPT"], "range": ["#4285f4", "#ea4335", "#34a853"]},
              "legend": {"legendX": 21, "legendY": -55, "symbolType": "circle", "symbolSize": 6, "symbolStrokeWidth": 3.5}}
          }
        },
        {
          "transform": [{"filter": "datum.s == 'MEMPROMPT (P(fb) = 0.5)'"}],
          "mark": {"type": "line", "strokeWidth": 2},
          "encoding": {
            "color": {"field": "s", "type": "nominal",
              "scale": {"domain": ["MEMPROMPT (P(fb) = 0.5)"], "range": ["#fbbc04"]},
              "legend": {"legendX": 95, "legendY": -36, "symbolType": "circle", "symbolSize": 6, "symbolStrokeWidth": 3.5}}
          }
        }
      ],
      "resolve": {"scale": {"color": "independent"}}
    },
    {
      "width": 489,
      "height": 176,
      "data": {"name": "bottom"},
      "mark": {"type": "line", "strokeWidth": 1.8},
      "encoding": {
        "x": {"field": "x", "type": "quantitative", "title": "Steps", "scale": {"domain": [0, 300], "nice": false}, "axis": {"values": [0, 100, 200, 300]}},
        "y": {"field": "y", "type": "quantitative", "title": "Accuracy", "scale": {"domain": [0, 100]}, "axis": {"values": [0, 25, 50, 75, 100]}},
        "color": {"field": "s", "type": "nominal", "sort": null,
          "scale": {"domain": ["NO-MEM", "MEM-PROMPT", "GROW-PROMPT"], "range": ["#4285f4", "#34a853", "#ff0000"]},
          "legend": {"legendX": 20, "legendY": -37, "symbolType": "stroke", "symbolSize": 25, "symbolStrokeWidth": 2, "labelOffset": -1, "columnPadding": 3}}
      }
    }
  ]
}
